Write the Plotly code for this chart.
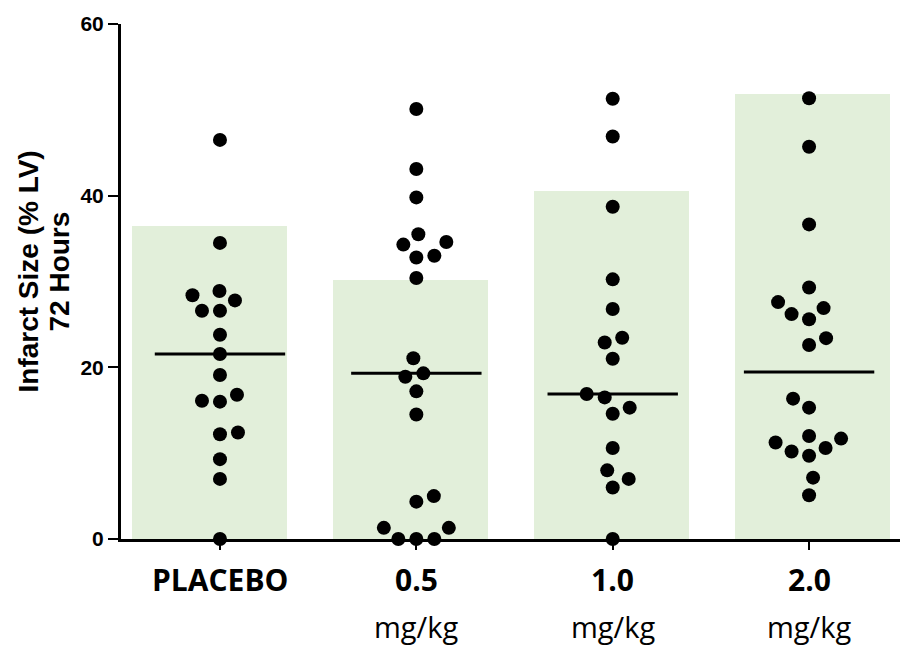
import plotly.graph_objects as go

# ---- data ----
groups = ["PLACEBO", "0.5", "1.0", "2.0"]
units = ["", "mg/kg", "mg/kg", "mg/kg"]
placebo = [46.5, 34.5, 28.9, 27.8, 28.4, 26.6, 26.6, 23.8, 21.55, 19.1, 16.8, 16.0, 16.1,
           12.4, 12.2, 9.3, 7.0, 0.0]
dose_05 = [50.1, 43.1, 39.8, 35.5, 34.3, 34.6, 32.8, 33.0, 30.4, 21.05, 18.9, 19.3, 17.2,
           14.5, 5.0, 4.35, 1.3, 1.3, 0.0, 0.0, 0.0]
dose_10 = [51.3, 46.9, 38.7, 30.25, 26.8, 23.45, 22.9, 21.0, 16.9, 16.5, 15.3, 14.6, 10.6,
           8.0, 7.0, 6.0, 0.0]
dose_20 = [51.35, 45.7, 36.65, 29.3, 27.6, 26.9, 26.2, 25.6, 23.4, 22.6, 16.35, 15.3, 12.0,
           11.25, 11.7, 10.2, 9.7, 10.6, 7.15, 5.1]
bar_heights = [36.45, 30.2, 40.55, 51.85]
center_lines = [21.55, 19.3, 16.9, 19.45]
y_ticks = [0, 20, 40, 60]

series = [placebo, dose_05, dose_10, dose_20]

# ---- layout constants ----
W, H = 900, 646
ML, MR, MT, MB = 121, 0, 24, 107
X_RANGE = [-0.504, 3.463]
Y_RANGE = [0, 60]
PX_X = (W - ML - MR) / (X_RANGE[1] - X_RANGE[0])
PX_Y = (H - MT - MB) / (Y_RANGE[1] - Y_RANGE[0])
DOT = 14
GAP = 18  # min centre distance between dots (px)
BAR_WIDTH = 0.79
BAR_START, BAR_STEP = -0.053, 1.0237  # bars sit on a slightly wider grid than the dots


def swarm_offsets(vals):
    """Greedy beeswarm: returns x offsets (data units) for each value."""
    placed = []
    offs = [0.0] * len(vals)
    order = sorted(range(len(vals)), key=lambda k: vals[k])
    cands = [0]
    for j in range(1, 160):
        cands += [j * 0.5, -j * 0.5]
    flip = 1
    for k in order:
        y = vals[k] * PX_Y
        cc = 0
        for c in cands:
            cc = c * flip
            if all((cc - px) ** 2 + (y - py) ** 2 >= GAP * GAP for px, py in placed):
                break
        if cc != 0:
            flip = -flip
        placed.append((cc, y))
        offs[k] = cc / PX_X
    return offs


fig = go.Figure()

fig.add_trace(go.Bar(
    x=[BAR_START + BAR_STEP * i for i in range(len(groups))], y=bar_heights, width=BAR_WIDTH,
    marker=dict(color="#E2EFDA", line=dict(width=0)),
    showlegend=False, hoverinfo="skip"))

for i, vals in enumerate(series):
    offs = swarm_offsets(vals)
    fig.add_trace(go.Scatter(
        x=[i + o for o in offs], y=vals, mode="markers",
        marker=dict(size=DOT, color="black", line=dict(width=0)),
        cliponaxis=False, showlegend=False))
    fig.add_trace(go.Scatter(
        x=[i - 0.332, i + 0.332], y=[center_lines[i]] * 2, mode="lines",
        line=dict(color="black", width=3), showlegend=False, hoverinfo="skip"))

annotations = []
for i, (g, u) in enumerate(zip(groups, units)):
    annotations.append(dict(
        x=i, xref="x", y=0, yref="paper", xanchor="center", yanchor="middle", yshift=-40,
        text="<b>%s</b>" % g, showarrow=False,
        font=dict(family="Open Sans", size=30, color="black")))
    if u:
        annotations.append(dict(
            x=i, xref="x", y=0, yref="paper", xanchor="center", yanchor="middle", yshift=-87,
            text=u, showarrow=False,
            font=dict(family="Open Sans", size=29, color="black")))

for txt, xs in [("Infarct Size (% LV)", -93), ("72 Hours", -62)]:
    annotations.append(dict(
        x=0, xref="paper", y=0.5, yref="paper", xanchor="center", yanchor="middle",
        xshift=xs, yshift=10,
        text="<b>%s</b>" % txt, textangle=-90, showarrow=False,
        font=dict(family="Liberation Sans", size=28, color="black")))

fig.update_layout(
    width=W, height=H, margin=dict(l=ML, r=MR, t=MT, b=MB),
    paper_bgcolor="white", plot_bgcolor="white", bargap=0,
    annotations=annotations,
    xaxis=dict(range=X_RANGE, tickvals=list(range(len(groups))), showticklabels=False,
               ticks="outside", ticklen=8, tickwidth=2, tickcolor="black",
               showline=True, linewidth=3, linecolor="black",
               showgrid=False, zeroline=False, fixedrange=True),
    yaxis=dict(range=Y_RANGE, tickvals=y_ticks, ticks="outside", ticklen=10,
               tickwidth=2, tickcolor="black",
               tickfont=dict(family="Liberation Sans", size=21, color="black", weight="bold"),
               showline=True, linewidth=3, linecolor="black",
               showgrid=False, zeroline=False, fixedrange=True),
)

fig.write_html("out.html", config={"displayModeBar": False},
               post_script="document.body.style.margin='0';document.body.style.padding='0';")
